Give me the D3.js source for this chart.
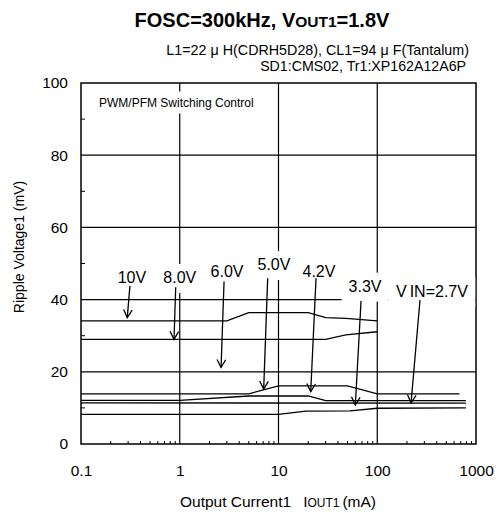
<!DOCTYPE html>
<html><head><meta charset="utf-8">
<script src="https://cdn.jsdelivr.net/npm/d3@7"></script>
<style>body{margin:0;background:#fff} text{font-family:"Liberation Sans",Arial,sans-serif;fill:#000}</style>
</head><body><svg id="c" width="502" height="513"></svg>
<script>
// ---- data ----
const xTicks = [0.1, 1, 10, 100, 1000];
const xTickLabels = ["0.1", "1", "10", "100", "1000"];
const yTicks = [0, 20, 40, 60, 80, 100];
const yTickLabels = ["0", "20", "40", "60", "80", "100"];

const s10V_I = [0.1, 3, 5, 20, 30, 48, 100];
const s10V_V = [34.1, 34.1, 36.4, 36.4, 35.0, 34.8, 34.1];
const s8V_I = [0.1, 30, 48, 100];
const s8V_V = [29.0, 29.0, 30.2, 31.1];
const s5V_I = [0.1, 5, 10, 50, 100, 680];
const s5V_V = [13.9, 13.9, 16.1, 16.1, 13.9, 13.9];
const s42V_I = [0.1, 1, 5, 20, 30, 790];
const s42V_V = [12.1, 12.1, 13.3, 13.3, 12.0, 12.0];
const s33V_I = [0.1, 790];
const s33V_V = [11.4, 11.3];
const s27V_I = [0.1, 10, 19, 53, 100, 790];
const s27V_V = [8.2, 8.2, 9.1, 9.2, 9.9, 10.0];

const annText = ["10V", "8.0V", "6.0V", "5.0V", "4.2V", "3.3V", "VIN=2.7V"];
const annI = [0.328, 1.0, 3.01, 9.0, 25.7, 75.2, 358];
const annV = [44.6, 44.6, 46.3, 48.2, 46.3, 42.2, 40.8];
const arrFromI = [0.313, 0.91, 2.81, 7.77, 24.0, 68.5, 271];
const arrFromV = [43.8, 43.4, 45.0, 45.9, 45.9, 39.6, 39.9];
const arrToI = [0.294, 0.875, 2.62, 7.08, 21.2, 60.0, 220];
const arrToV = [35.0, 29.0, 21.2, 15.2, 14.5, 10.8, 11.4];

// ---- drawing ----
const svg = d3.select("#c");
const x = d3.scaleLog().domain([0.1, 1000]).range([81, 476]);
const y = d3.scaleLinear().domain([0, 100]).range([444, 83]);

const series = [
  [s10V_I, s10V_V], [s8V_I, s8V_V], [s5V_I, s5V_V],
  [s42V_I, s42V_V], [s33V_I, s33V_V], [s27V_I, s27V_V]
];

// grid
const g = svg.append("g");
g.selectAll(".hg").data(yTicks.filter(d => d > 0 && d < 100)).join("line")
  .attr("x1", x(0.1)).attr("x2", x(1000)).attr("y1", d => y(d)).attr("y2", d => y(d))
  .attr("stroke", "#000").attr("stroke-width", 1.2);
g.selectAll(".vg").data(xTicks.filter(d => d > 0.1 && d < 1000)).join("line")
  .attr("x1", d => x(d)).attr("x2", d => x(d)).attr("y1", y(0)).attr("y2", y(100))
  .attr("stroke", "#000").attr("stroke-width", 1.2);

// minor ticks
const minorX = [];
[0.1, 1, 10, 100].forEach(dec => { for (let k = 2; k <= 9; k++) minorX.push(dec * k); });
g.selectAll(".mx").data(minorX).join("line")
  .attr("x1", d => x(d)).attr("x2", d => x(d)).attr("y1", y(0)).attr("y2", y(0) - 3)
  .attr("stroke", "#000").attr("stroke-width", 1);
const minorY = [10, 30, 50, 70, 90];
g.selectAll(".my").data(minorY).join("line")
  .attr("x1", x(0.1)).attr("x2", x(0.1) + 4).attr("y1", d => y(d)).attr("y2", d => y(d))
  .attr("stroke", "#000").attr("stroke-width", 1);

// series lines
const line = d3.line().x(d => x(d[0])).y(d => y(d[1]));
svg.append("g").selectAll("path").data(series).join("path")
  .attr("d", s => line(s[0].map((v, i) => [v, s[1][i]])))
  .attr("fill", "none").attr("stroke", "#000").attr("stroke-width", 1.3);

// border
svg.append("rect").attr("x", x(0.1)).attr("y", y(100))
  .attr("width", x(1000) - x(0.1)).attr("height", y(0) - y(100))
  .attr("fill", "none").attr("stroke", "#000").attr("stroke-width", 1.5);

// axes
const xAxis = svg.append("g").attr("transform", `translate(0,${y(0)})`)
  .call(d3.axisBottom(x).tickValues(xTicks).tickFormat((d, i) => xTickLabels[i]).tickSize(0).tickPadding(21));
xAxis.select(".domain").remove();
xAxis.selectAll("text").attr("font-size", 15.5).attr("font-family", "Liberation Sans").attr("fill", "#000");
const yAxis = svg.append("g").attr("transform", `translate(${x(0.1)},0)`)
  .call(d3.axisLeft(y).tickValues(yTicks).tickFormat((d, i) => yTickLabels[i]).tickSize(0).tickPadding(13));
yAxis.select(".domain").remove();
yAxis.selectAll("text").attr("font-size", 15.5).attr("font-family", "Liberation Sans").attr("fill", "#000");

// annotation labels with white boxes
const ann = svg.append("g");
annText.forEach((t, i) => {
  const gx = ann.append("g");
  const rect = gx.append("rect").attr("fill", "#fff");
  const tx = gx.append("text").attr("x", x(annI[i])).attr("y", y(annV[i]))
    .attr("text-anchor", "middle").attr("font-size", 16);
  if (t.startsWith("VIN")) {
    tx.append("tspan").text("V");
    tx.append("tspan").attr("dx", 3).text("IN=2.7V");
  } else tx.text(t);
  const b = tx.node().getBBox();
  rect.attr("x", b.x - 7).attr("y", b.y - 5).attr("width", b.width + 14).attr("height", b.height + 12);
});
// arrows
const arr = svg.append("g").attr("stroke", "#000").attr("stroke-width", 1.3).attr("fill", "none");
annText.forEach((t, i) => {
  const x1 = x(arrFromI[i]), y1 = y(arrFromV[i]), x2 = x(arrToI[i]), y2 = y(arrToV[i]);
  arr.append("line").attr("x1", x1).attr("y1", y1).attr("x2", x2).attr("y2", y2);
  const ang = Math.atan2(y2 - y1, x2 - x1);
  const L = 9, a = 0.5;
  const p1 = [x2 - L * Math.cos(ang - a), y2 - L * Math.sin(ang - a)];
  const p2 = [x2 - L * Math.cos(ang + a), y2 - L * Math.sin(ang + a)];
  arr.append("path").attr("d", `M${p1}L${x2},${y2}L${p2}`);
});

// PWM text box
const pw = svg.append("g");
const pwr = pw.append("rect").attr("fill", "#fff");
const pwt = pw.append("text").attr("x", 99).attr("y", 106.5).attr("font-size", 12).text("PWM/PFM Switching Control");
const pb = pwt.node().getBBox();
pwr.attr("x", pb.x - 4).attr("y", pb.y - 4).attr("width", pb.width + 8).attr("height", pb.height + 8);

// title
const title = svg.append("text").attr("x", 262).attr("y", 26.5).attr("text-anchor", "middle")
  .attr("font-size", 20).attr("font-weight", "bold");
title.append("tspan").text("FOSC=300kHz, V");
title.append("tspan").attr("font-size", 15.5).text("OUT1");
title.append("tspan").text("=1.8V");

// subtitle
const sub1 = svg.append("text").attr("x", 469).attr("y", 54.5).attr("text-anchor", "end").attr("font-size", 14.3);
sub1.append("tspan").text("L1=22");
sub1.append("tspan").attr("dx", 4).text("μ");
sub1.append("tspan").attr("dx", 4).text("H(CDRH5D28), CL1=94");
sub1.append("tspan").attr("dx", 4).text("μ");
sub1.append("tspan").attr("dx", 4).text("F(Tantalum)");
svg.append("text").attr("x", 466).attr("y", 71).attr("text-anchor", "end").attr("font-size", 14.2)
  .text("SD1:CMS02, Tr1:XP162A12A6P");

// axis titles
const xt = svg.append("text").attr("x", 278).attr("y", 506.5).attr("text-anchor", "middle").attr("font-size", 15.5);
xt.append("tspan").text("Output Current1");
xt.append("tspan").attr("dx", 12).text("I");
xt.append("tspan").attr("font-size", 12).text("OUT1");
xt.append("tspan").attr("dx", 3).text("(mA)");
svg.append("text").attr("transform", "translate(24,247) rotate(-90)").attr("text-anchor", "middle")
  .attr("font-size", 14).text("Ripple Voltage1 (mV)");
</script></body></html>
